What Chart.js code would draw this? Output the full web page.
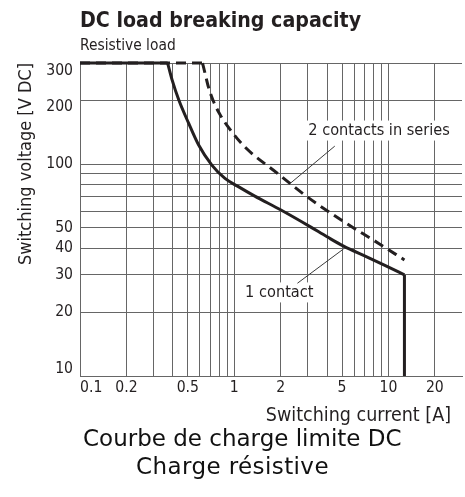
<!DOCTYPE html>
<html><head><meta charset="utf-8">
<script src="https://cdn.jsdelivr.net/npm/chart.js@4.4.1/dist/chart.umd.min.js"></script>
<style>
html,body{margin:0;padding:0;background:#fff;}
#wrap{position:relative;width:465px;height:497px;overflow:hidden;background:#fff;}
#c{position:absolute;left:0;top:0;}
.fr{position:absolute;font-family:'DejaVu Sans',sans-serif;font-size:23px;line-height:28px;color:#111;white-space:nowrap;}
</style></head>
<body><div id="wrap"><canvas id="c" width="465" height="430"></canvas>
<div class="fr" style="top:424px;left:83px">Courbe de charge limite DC</div>
<div class="fr" style="top:452px;left:0;width:465px;text-align:center;letter-spacing:0.4px">Charge résistive</div></div>
<script>
// ---- data ----
const titleText = 'DC load breaking capacity';
const subtitleText = 'Resistive load';
const yTitle = 'Switching voltage [V DC]';
const xTitle = 'Switching current [A]';

const xTicks = [0.1,0.2,0.3,0.4,0.5,0.6,0.7,0.8,0.9,1,2,3,4,5,6,7,8,9,10,20,30];
const xLabels = [0.1,0.2,0.5,1,2,5,10,20];
const yTicks = [10,20,30,40,50,60,70,80,90,100,200,300];
const yLabels = [10,20,30,40,50,100,200,300];

const oneContactX = [0.1,0.37,0.396,0.438,0.507,0.588,0.716,0.871,1.05,1.36,2.01,3.1,4.0,5.12,7.23,9.71,12.7,12.7];
const oneContactY = [300,300,249,200,155.6,123,98.9,85.6,78.7,70.6,60.7,50.7,45.4,41,36.5,33,30,10];
const twoSeriesX = [0.1,0.623,0.649,0.681,0.733,0.813,0.915,1.17,1.91,2.98,5.13,8.8,12.7];
const twoSeriesY = [300,300,265.8,230.7,198,170.3,149.5,120.7,90.4,70,53.5,41.9,35.3];

// ---- styles ----
const FONT = "'DejaVu Sans Condensed','DejaVu Sans',sans-serif";
const INK = '#231f20';
const GRID = '#666666';
const yLabelLift = {300: ['', '15px'], 200: ['', '13px'], 10: ['below', '14px']};

const notes = [
  {text: '2 contacts in series', at: [8.7, 144], from: [4.49, 121.6], to: [2.28, 80.5]},
  {text: '1 contact', at: [1.96, 24.8], from: [2.57, 27.4], to: [5.12, 39.8]}
];

// split a path into straight (horizontal / vertical) runs and curved runs
function runs(xs, ys) {
  const out = [];
  let cur = null;
  for (let i = 0; i < xs.length - 1; i++) {
    const straight = xs[i] === xs[i + 1] || ys[i] === ys[i + 1];
    if (!cur || cur.straight !== straight) {
      cur = {straight, pts: [{x: xs[i], y: ys[i]}]};
      out.push(cur);
    }
    cur.pts.push({x: xs[i + 1], y: ys[i + 1]});
  }
  return out;
}
function seriesDatasets(label, xs, ys, style) {
  return runs(xs, ys).map((r, k) => Object.assign({
    label: k === 0 ? label : label + ' (' + k + ')',
    data: r.pts,
    cubicInterpolationMode: r.straight ? 'default' : 'monotone',
    tension: 0, pointRadius: 0, fill: false, clip: 6,
    borderColor: INK, borderWidth: 3
  }, style));
}

const annot = {
  id: 'annot',
  beforeDatasetsDraw(chart) {
    const {ctx, scales: {x, y}} = chart;
    ctx.save();
    ctx.font = '16.2px ' + FONT;
    notes.forEach(n => {
      const px = x.getPixelForValue(n.at[0]), py = y.getPixelForValue(n.at[1]);
      const w = ctx.measureText(n.text).width;
      ctx.fillStyle = '#fff';
      ctx.fillRect(px - w / 2 - 3, py - 10, w + 6, 20);
    });
    notes.forEach(n => {
      const px = x.getPixelForValue(n.at[0]), py = y.getPixelForValue(n.at[1]);
      ctx.strokeStyle = '#3a3a3a'; ctx.lineWidth = 1;
      ctx.beginPath();
      ctx.moveTo(x.getPixelForValue(n.from[0]), y.getPixelForValue(n.from[1]));
      ctx.lineTo(x.getPixelForValue(n.to[0]), y.getPixelForValue(n.to[1]));
      ctx.stroke();
      ctx.fillStyle = INK; ctx.textAlign = 'center'; ctx.textBaseline = 'middle';
      ctx.fillText(n.text, px, py);
    });
    ctx.restore();
  },
  afterDraw(chart) {
    const {ctx, chartArea} = chart;
    ctx.save();
    ctx.font = '19.5px ' + FONT;
    ctx.fillStyle = INK; ctx.textAlign = 'right'; ctx.textBaseline = 'alphabetic';
    ctx.fillText(xTitle, chartArea.right - 11, chartArea.bottom + 45);
    ctx.restore();
  }
};

new Chart(document.getElementById('c'), {
  type: 'line',
  data: {
    datasets: [
      ...seriesDatasets('1 contact', oneContactX, oneContactY, {}),
      ...seriesDatasets('2 contacts in series', twoSeriesX, twoSeriesY, {borderDash: [10, 6]})
    ]
  },
  options: {
    responsive: false, animation: false, devicePixelRatio: 1,
    layout: {padding: 0},
    plugins: {
      legend: {display: false}, tooltip: {enabled: false},
      title: {display: true, text: titleText, align: 'start', fullSize: false, color: INK,
              font: {family: FONT, size: 21.2, weight: 'bold'}, padding: {top: 8.3, bottom: 0}},
      subtitle: {display: true, text: subtitleText, align: 'start', fullSize: false, color: INK,
              font: {family: FONT, size: 15.4}, padding: {top: 3.5, bottom: 7.3}}
    },
    scales: {
      x: {
        type: 'logarithmic', min: 0.1, max: 30,
        afterBuildTicks: s => { s.ticks = xTicks.map(v => ({value: v})); },
        afterFit: s => { s.height = 54; },
        ticks: {autoSkip: false, maxRotation: 0, minRotation: 0, align: 'inner', padding: 3, color: INK,
                font: {family: FONT, size: 15.6},
                callback: v => xLabels.includes(v) ? String(v) : ''},
        grid: {color: c => (c.tick && c.tick.value === 30) ? 'rgba(0,0,0,0)' : GRID, lineWidth: 1, drawTicks: false},
        border: {color: GRID, width: 1}
      },
      y: {
        type: 'logarithmic', min: 10, max: 300, position: 'left',
        afterBuildTicks: s => { s.ticks = yTicks.map(v => ({value: v})); },
        afterFit: s => { s.width = 80; },
        ticks: {autoSkip: false, padding: 7, color: INK,
                font: c => {
                  const v = c.tick ? c.tick.value : null;
                  const l = yLabelLift[v];
                  return {family: FONT, size: 15.6, lineHeight: l ? l[1] : 1.2};
                },
                callback: v => {
                  if (!yLabels.includes(v)) return '';
                  const l = yLabelLift[v];
                  if (!l) return String(v);
                  return l[0] === 'below' ? [String(v), ''] : ['', String(v)];
                }},
        grid: {color: GRID, lineWidth: 1, drawTicks: false},
        border: {color: GRID, width: 1},
        title: {display: true, text: yTitle, align: 'end', color: INK,
                font: {family: FONT, size: 18}, padding: {top: 15.7, bottom: 0}}
      }
    }
  },
  plugins: [annot]
});
</script></body></html>
